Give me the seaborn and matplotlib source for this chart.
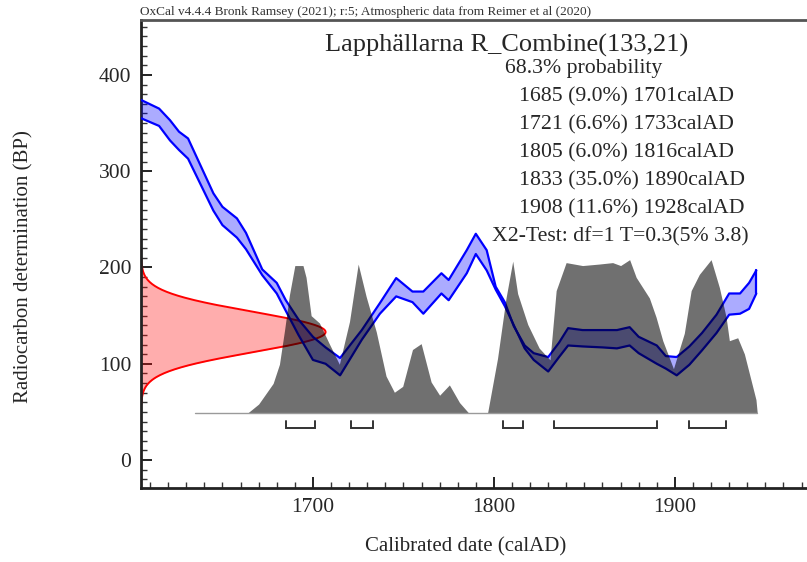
import numpy as np
import pandas as pd
import matplotlib
matplotlib.use("Agg")
import matplotlib.pyplot as plt
import seaborn as sns

# --- Calibration curve: 1-sigma band edges (BP) ---
cal_years = [1605, 1615, 1621, 1626, 1631, 1645, 1650, 1658, 1663, 1672,
             1680, 1685, 1692, 1700, 1707, 1715, 1727, 1737, 1746, 1755,
             1761, 1771, 1775, 1785, 1790, 1796, 1801, 1806, 1811, 1817,
             1822, 1830, 1836, 1841, 1849, 1860, 1868, 1875, 1880, 1890,
             1895, 1901, 1908, 1915, 1923, 1930, 1936, 1941, 1945]
cal_upper = [374, 365, 353, 341, 334, 277, 263, 251, 236, 198,
             184, 166, 146, 128, 117, 106, 135, 163, 189, 175,
             175, 194, 187, 218, 235, 218, 180, 164, 139, 119,
             111, 107, 122, 137, 135, 135, 135, 138, 128, 119,
             108, 107, 118, 132, 151, 173, 173, 184, 197]
cal_lower = [355, 347, 332, 322, 313, 259, 244, 231, 219, 192,
             173, 155, 130, 104, 100, 88, 125, 152, 170, 164,
             152, 173, 166, 194, 214, 197, 177, 160, 140, 116,
             104, 92, 107, 119, 118, 117, 116, 119, 111, 100,
             95, 88, 99, 114, 132, 151, 152, 157, 173]

# --- Combined radiocarbon determination ---
sample_name = "Lapphällarna R_Combine"
r_mean = 133
r_sd = 21

# --- Calibrated probability distribution (relative) ---
dist_years = [1635, 1664, 1670, 1678, 1681.5, 1684.3, 1687, 1690, 1694.5, 1696.2,
              1699, 1703.6, 1709, 1714.6, 1720.2, 1725, 1729.4, 1735, 1740.4, 1745,
              1749.6, 1755, 1759.8, 1765.3, 1770, 1775.4, 1781, 1786, 1796.5, 1802,
              1806.7, 1810.4, 1813.1, 1818.7, 1825, 1831, 1834.4, 1839.9, 1849, 1858,
              1865.6, 1870, 1875, 1878.6, 1885.9, 1889.6, 1893.3, 1899.2, 1905.2, 1909,
              1913.5, 1920, 1924.6, 1928.3, 1930.1, 1934.7, 1938.4, 1944.8, 1945.5]
dist_prob = [0, 0, 0.06, 0.20, 0.33, 0.56, 0.80, 1.0, 1.0, 0.92,
             0.66, 0.61, 0.47, 0.33, 0.62, 1.01, 0.79, 0.55, 0.25, 0.14,
             0.18, 0.43, 0.47, 0.21, 0.12, 0.19, 0.07, 0, 0, 0.37,
             0.78, 1.03, 0.81, 0.60, 0.44, 0.36, 0.83, 1.02, 1.0, 1.01,
             1.02, 1.0, 1.04, 0.92, 0.78, 0.65, 0.49, 0.30, 0.54, 0.83,
             0.94, 1.04, 0.85, 0.65, 0.49, 0.51, 0.40, 0.09, 0]

# --- 68.3% highest probability ranges ---
range_start = [1685, 1721, 1805, 1833, 1908]
range_end = [1701, 1733, 1816, 1890, 1928]
range_pct = [9.0, 6.6, 6.0, 35.0, 11.6]

header = "OxCal v4.4.4 Bronk Ramsey (2021); r:5; Atmospheric data from Reimer et al (2020)"
chi2_text = "X2-Test: df=1 T=0.3(5% 3.8)"

x_ticks = [1700, 1800, 1900]
y_ticks = [0, 100, 200, 300, 400]

# ---------------------------------------------------------------
sns.set_theme(style="ticks")
serif = "Liberation Serif"
plt.rcParams["font.family"] = [serif, "DejaVu Serif"]
txt_col = "#262626"

W, H = 807, 562
fig = plt.figure(figsize=(W / 100, H / 100), dpi=100)
ax = fig.add_axes([141 / W, 1 - 488 / H, (W - 141) / W, (488 - 20) / H])

x_min, x_max = 1605, 1973
ax.set_xlim(x_min, x_max)
ax.set_ylim(-29, 457)

cal = pd.DataFrame({"year": cal_years, "upper": cal_upper, "lower": cal_lower})

# Measured determination as a normal curve hanging off the y axis
bp = np.linspace(r_mean - 3.6 * r_sd, r_mean + 3.6 * r_sd, 300)
gx = x_min + 102 * np.exp(-0.5 * ((bp - r_mean) / r_sd) ** 2)
ax.fill_betweenx(bp, x_min, gx, color=(1, 0, 0), alpha=0.32, lw=0, zorder=1)
sns.lineplot(x=gx, y=bp, sort=False, estimator=None, orient="y",
             color="red", lw=1.4, ax=ax, zorder=2)

# Calibration curve band
ax.fill_between(cal["year"], cal["lower"], cal["upper"], color=(0, 0, 1),
                alpha=0.33, lw=0, zorder=3)
for col in ["upper", "lower"]:
    sns.lineplot(data=cal, x="year", y=col, color=(0, 0, 1), lw=1.6,
                 estimator=None, ax=ax, zorder=4)
ax.plot([cal_years[-1]] * 2, [cal_lower[-1], cal_upper[-1]], color=(0, 0, 1),
        lw=1.6, zorder=4)

# Calibrated distribution drawn as a dark translucent overlay
base = 49
peak = 153
d_top = base + peak * np.asarray(dist_prob)
ax.fill_between(dist_years, base, d_top, color="black", alpha=0.56, lw=0, zorder=5)
ax.plot([dist_years[0], dist_years[-1]], [base, base], color="#9a9a9a", lw=1.0, zorder=5)

# Range brackets
y_br, y_tk = 33, 40.5
for s, e in zip(range_start, range_end):
    ax.plot([s, s, e, e], [y_tk, y_br, y_br, y_tk], color="#333333", lw=1.4,
            solid_joinstyle="miter", zorder=6)

# Axes styling
ax.set_xticks(x_ticks)
ax.set_yticks(y_ticks)
ax.set_xticks(np.arange(1610, 1971, 10), minor=True)
ax.set_yticks(np.arange(-20, 451, 10), minor=True)
ax.tick_params(which="major", direction="in", length=8, width=1.4, colors="#222222",
               labelsize=15.5, labelcolor=txt_col, pad=7)
ax.tick_params(which="minor", direction="in", length=4, width=1.0, colors="#333333")
ax.tick_params(axis="x", which="both", top=False)
ax.tick_params(axis="y", which="both", right=False)
for lab in ax.get_xticklabels() + ax.get_yticklabels():
    lab.set_family(serif)
for side in ["left", "bottom", "top"]:
    ax.spines[side].set_linewidth(2.0)
    ax.spines[side].set_color("#222222")
ax.spines["top"].set_color("#555555")
ax.spines["right"].set_visible(False)
ax.set_xlabel("")
ax.set_ylabel("")

# Texts
fig.text(466 / W, 1 - 547 / H, "Calibrated date (calAD)", ha="center", va="center",
         fontsize=15, color=txt_col, family=serif)
fig.text(24 / W, 1 - 267 / H, "Radiocarbon determination (BP)", ha="center", va="center",
         rotation=90, fontsize=15, color=txt_col, family=serif)
fig.text(140 / W, 1 - 12 / H, header, ha="left", va="center", fontsize=9.5,
         color="#333333", family=serif)
fig.text(507 / W, 1 - 45 / H, f"{sample_name}({r_mean},{r_sd})", ha="center",
         va="center", fontsize=19, color=txt_col, family=serif)
fig.text(505 / W, 1 - 69 / H, "68.3% probability", ha="left", va="center",
         fontsize=15.7, color=txt_col, family=serif)
for i, (s, e, p) in enumerate(zip(range_start, range_end, range_pct)):
    fig.text(519 / W, 1 - (97 + 28 * i) / H, f"{s} ({p:.1f}%) {e}calAD", ha="left",
             va="center", fontsize=15.7, color=txt_col, family=serif)
fig.text(492 / W, 1 - 237 / H, chi2_text, ha="left", va="center", fontsize=15.7,
         color=txt_col, family=serif)

fig.savefig("out.png", dpi=100)
